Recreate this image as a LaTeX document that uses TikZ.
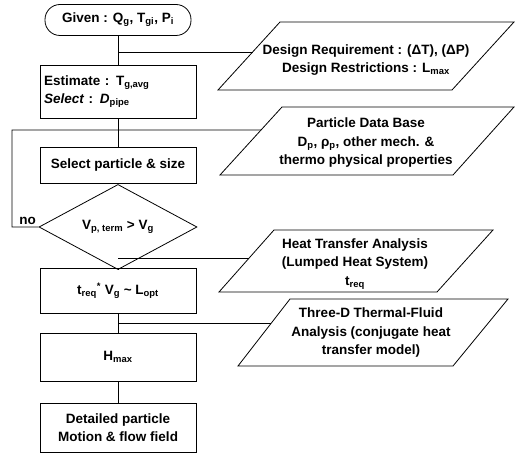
\documentclass[tikz,border=0pt]{standalone}
\usepackage{fontspec}
\setmainfont{Liberation Sans}
\usetikzlibrary{shapes.geometric,calc}
\begin{document}
\begin{tikzpicture}[x=1pt,y=-1pt, line width=0.8pt,
  every node/.style={font=\bfseries\fontsize{13.5}{18.5}\selectfont},
  box/.style={draw, minimum width=156pt, align=center, inner sep=0pt},
  term/.style={draw, rounded corners=15pt, minimum width=146pt, minimum height=31pt},
  dec/.style={draw, diamond, minimum width=158pt, minimum height=52pt, inner sep=0pt},
  ptext/.style={align=center, inner sep=0pt},
  link/.style={draw, line width=0.8pt}
]
\useasboundingbox (0,0) rectangle (515,454);

% main column
\node[term] (given) at (118,20) {Given : Q\textsubscript{g}, T\textsubscript{gi}, P\textsubscript{i}};
\node[box, minimum height=53pt, align=left, text width=148pt, inner xsep=4pt] (est) at (118,91.5)
  {Estimate : T\textsubscript{g,avg}\\ \textit{Select} : \textit{D}\textsubscript{pipe}};
\node[box, minimum height=36pt] (sel) at (118,165) {Select particle \& size};
\node[dec] (dia) at (118,227) {V\textsubscript{p, term} > V\textsubscript{g}};
\node[box, minimum height=45pt] (treq) at (118,290.5)
  {t\textsubscript{req}\textsuperscript{*} V\textsubscript{g} \textasciitilde{} L\textsubscript{opt}};
\node[box, minimum height=48pt] (hmax) at (118,357) {H\textsubscript{max}};
\node[box, minimum height=49pt] (det) at (118,427.5) {Detailed particle\\Motion \& flow field};

\draw[link] (given) -- (est);
\draw[link] (est) -- (sel);
\draw[link] (sel) -- (dia);
\draw[link] (dia) -- (treq);
\draw[link] (treq) -- (hmax);
\draw[link] (hmax) -- (det);

% parallelogram 1
\coordinate (p1bl) at (218,90); \coordinate (p1br) at (452,90);
\coordinate (p1tr) at (514,22); \coordinate (p1tl) at (280,22);
\draw (p1bl) -- (p1br) -- (p1tr) -- (p1tl) -- cycle;
\node[ptext] (p1) at (366,60) {Design Requirement : (ΔT), (ΔP)\\Design Restrictions : L\textsubscript{max}};
\coordinate (p1in) at ($(p1bl)!0.559!(p1tl)$);
\draw[link] (given.south |- p1in) -- (p1in);

% parallelogram 2
\coordinate (p2bl) at (220,175); \coordinate (p2br) at (453,175);
\coordinate (p2tr) at (514,107); \coordinate (p2tl) at (282,107);
\draw (p2bl) -- (p2br) -- (p2tr) -- (p2tl) -- cycle;
\node[ptext] (p2) at (366,143) {Particle Data Base\\D\textsubscript{p}, ρ\textsubscript{p}, other mech. \&\\thermo physical properties};
\coordinate (p2in) at ($(p2bl)!0.662!(p2tl)$);
\coordinate (lx) at (12,130);
\draw[link] (dia.west) -| (lx) -- (p2in);
\node[inner sep=0pt, anchor=south west] (no) at (19,225) {no};

% parallelogram 3
\coordinate (p3bl) at (219,292); \coordinate (p3br) at (437,292);
\coordinate (p3tr) at (493,230); \coordinate (p3tl) at (274,230);
\draw (p3bl) -- (p3br) -- (p3tr) -- (p3tl) -- cycle;
\node[ptext] (p3) at (355,264) {Heat Transfer Analysis\\(Lumped Heat System)\\t\textsubscript{req}};
\coordinate (p3in) at ($(p3bl)!0.548!(p3tl)$);
\draw[link] (dia.south |- p3in) -- (p3in);

% parallelogram 4
\coordinate (p4bl) at (238,366); \coordinate (p4br) at (453,366);
\coordinate (p4tr) at (508,299); \coordinate (p4tl) at (290,299);
\draw (p4bl) -- (p4br) -- (p4tr) -- (p4tl) -- cycle;
\node[ptext] (p4) at (371,333) {Three-D Thermal-Fluid\\Analysis (conjugate heat\\transfer model)};
\coordinate (p4in) at ($(p4bl)!0.642!(p4tl)$);
\draw[link] (treq.south |- p4in) -- (p4in);
\end{tikzpicture}
\end{document}
